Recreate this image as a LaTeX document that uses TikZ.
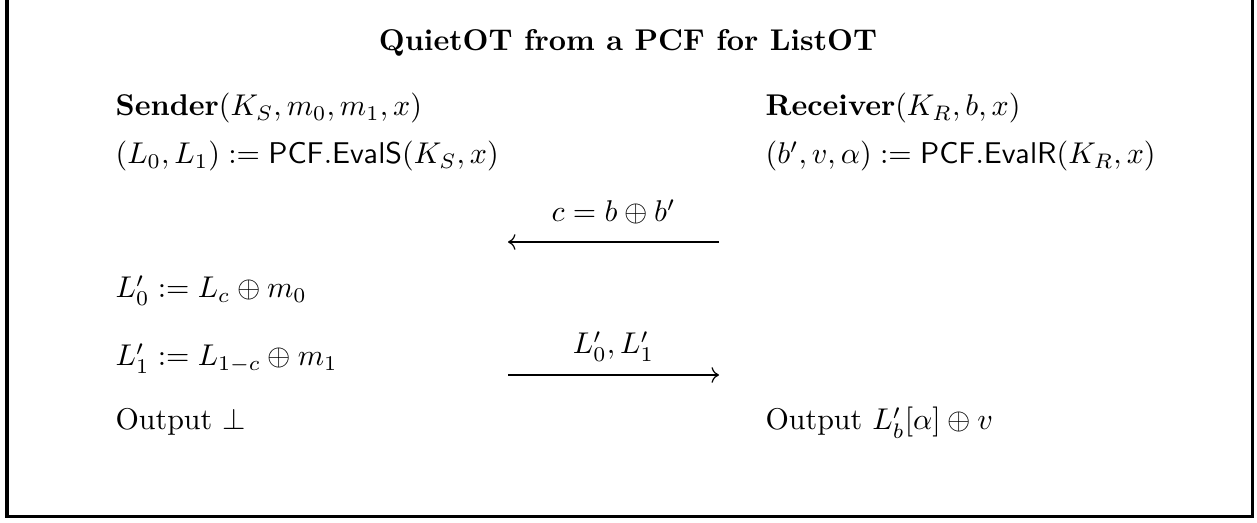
\documentclass[tikz,border=0pt]{standalone}
\usetikzlibrary{arrows.meta}
\begin{document}
\begin{tikzpicture}[x=0.3333pt,y=-0.3333pt,
  lbl/.style={anchor=base west, inner sep=0pt},
  msg/.style={anchor=base, inner sep=0pt},
  arr/.style={->, line width=0.4pt},
  frame/.style={line width=1pt}]
\useasboundingbox (0,0) rectangle (1257,523);
\draw[frame] (7,0) -- (7,517) -- (1252,517) -- (1252,0);
\node[msg, font=\bfseries] (title) at (628,51) {QuietOT from a PCF for ListOT};
\node[lbl] (s1) at (115,116) {\textbf{Sender}$(K_S,m_0,m_1,x)$};
\node[lbl] (s2) at (115,164) {$(L_0,L_1) := \mathsf{PCF.EvalS}(K_S,x)$};
\node[lbl] (s3) at (115,298) {$L_0' := L_c \oplus m_0$};
\node[lbl] (s4) at (115,366) {$L_1' := L_{1-c} \oplus m_1$};
\node[lbl] (s5) at (115,430) {Output $\bot$};
\node[lbl] (r1) at (765,116) {\textbf{Receiver}$(K_R,b,x)$};
\node[lbl] (r2) at (765,164) {$(b',v,\alpha) := \mathsf{PCF.EvalR}(K_R,x)$};
\node[lbl] (r5) at (765,430) {Output $L_b'[\alpha]\oplus v$};
\coordinate (a1r) at (719,242);
\coordinate (a1l) at (508,242);
\coordinate (a2l) at (508,375);
\coordinate (a2r) at (719,375);
\node[msg] (m1) at (613.5,222) {$c=b\oplus b'$};
\node[msg] (m2) at (613.5,354) {$L_0',L_1'$};
\draw[arr] (a1r) -- (a1l);
\draw[arr] (a2l) -- (a2r);
\end{tikzpicture}
\end{document}
